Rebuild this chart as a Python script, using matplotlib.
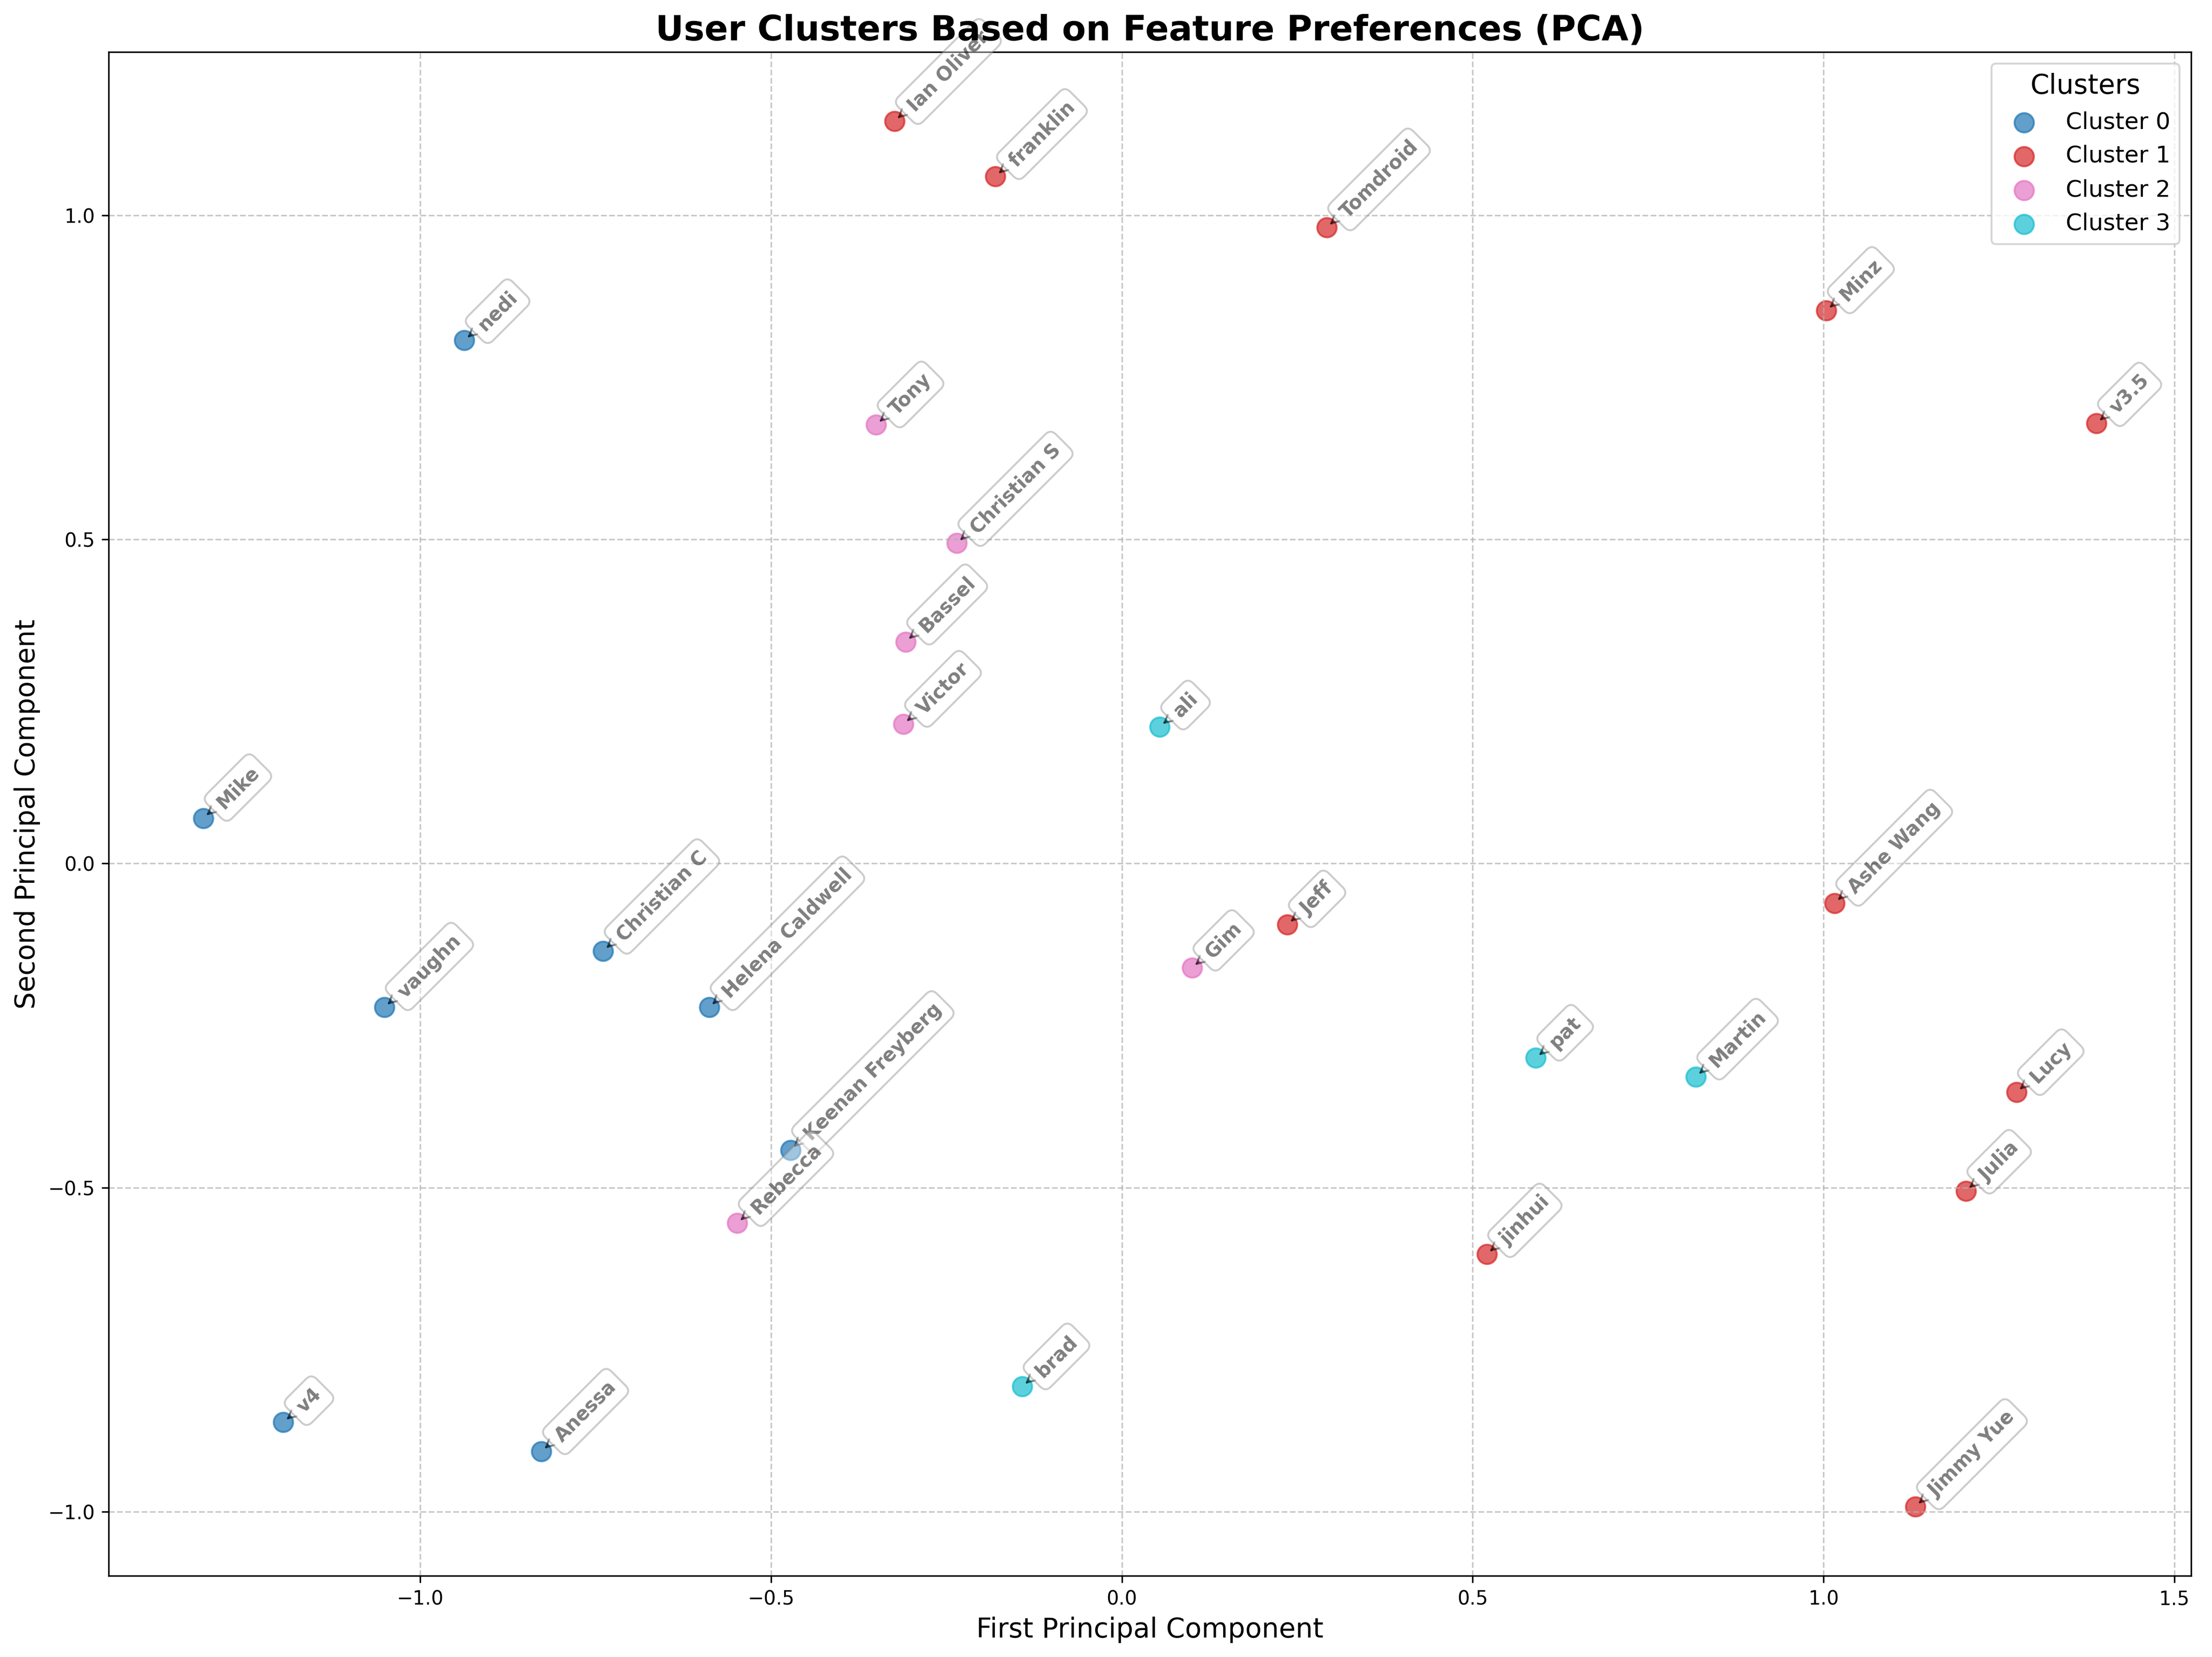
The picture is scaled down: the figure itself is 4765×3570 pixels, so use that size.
import matplotlib
matplotlib.use("Agg")
import matplotlib.pyplot as plt
import numpy as np

names = ["nedi", "Mike", "Christian C", "vaughn", "Helena Caldwell", "Keenan Freyberg", "v4", "Anessa",
         "Ian Oliver", "franklin", "Tomdroid", "Minz", "v3.5", "Ashe Wang", "Jeff", "Lucy", "Julia", "jinhui", "Jimmy Yue",
         "Tony", "Christian S", "Bassel", "Victor", "Gim", "Rebecca",
         "ali", "pat", "Martin", "brad"]
pc1 = [-0.937, -1.309, -0.739, -1.051, -0.588, -0.472, -1.195, -0.827,
       -0.324, -0.180, 0.292, 1.004, 1.389, 1.016, 0.236, 1.275, 1.203, 0.520, 1.131,
       -0.350, -0.235, -0.308, -0.311, 0.100, -0.548,
       0.054, 0.590, 0.818, -0.142]
pc2 = [0.807, 0.070, -0.135, -0.222, -0.222, -0.442, -0.862, -0.907,
       1.145, 1.060, 0.981, 0.853, 0.679, -0.061, -0.094, -0.353, -0.505, -0.603, -0.992,
       0.677, 0.494, 0.342, 0.215, -0.161, -0.555,
       0.211, -0.300, -0.329, -0.807]
clusters = [0, 0, 0, 0, 0, 0, 0, 0,
            1, 1, 1, 1, 1, 1, 1, 1, 1, 1, 1,
            2, 2, 2, 2, 2, 2,
            3, 3, 3, 3]

pc1 = np.array(pc1)
pc2 = np.array(pc2)
clusters = np.array(clusters)

fig, ax = plt.subplots(figsize=(4765/300, 3570/300), dpi=300)
cmap = plt.get_cmap("tab10")
n_clusters = clusters.max() + 1
for k in range(n_clusters):
    m = clusters == k
    ax.scatter(pc1[m], pc2[m], color=cmap(k / (n_clusters - 1)), s=100, alpha=0.7,
               label=f"Cluster {k}")

for name, x, y in zip(names, pc1, pc2):
    ax.annotate(name, (x, y), xytext=(5, 5), textcoords="offset points",
                fontsize=10, fontweight="bold", alpha=0.5, rotation=45,
                bbox=dict(boxstyle="round,pad=0.4", fc="white", ec="gray", alpha=0.4),
                arrowprops=dict(arrowstyle="->", connectionstyle="arc3,rad=0",
                                color="black", alpha=0.5))

ax.set_title("User Clusters Based on Feature Preferences (PCA)", fontsize=18, fontweight="bold")
ax.set_xlabel("First Principal Component", fontsize=14)
ax.set_ylabel("Second Principal Component", fontsize=14)
ax.grid(True, linestyle="--", alpha=0.7)
ax.legend(title="Clusters", fontsize=12, title_fontsize=14, loc="upper right")
fig.subplots_adjust(left=234/4765, right=4720/4765, top=1-112/3570, bottom=1-3395/3570)
fig.savefig("out.png", dpi=300)
